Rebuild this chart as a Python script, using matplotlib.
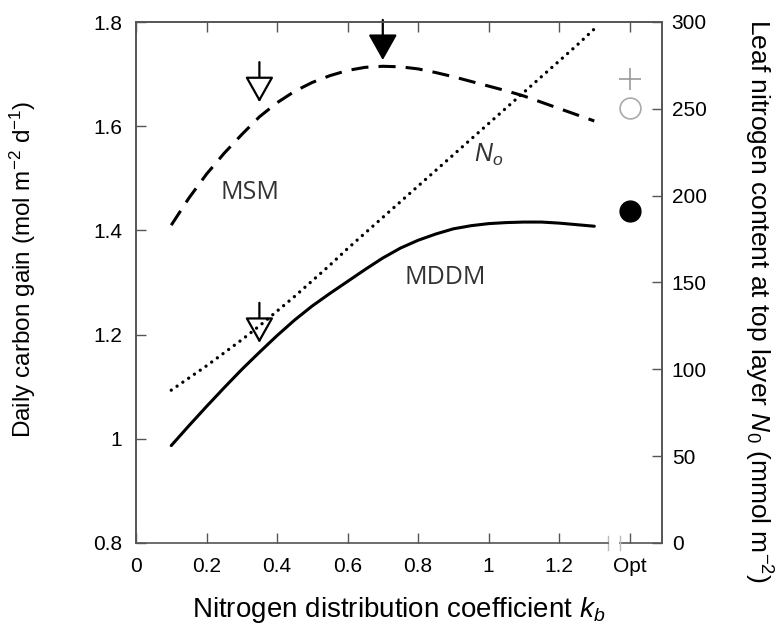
import matplotlib
matplotlib.use("Agg")
import matplotlib.pyplot as plt

plt.rcParams["font.family"] = ["Liberation Sans", "DejaVu Sans"]
plt.rcParams["mathtext.fontset"] = "custom"
plt.rcParams["mathtext.rm"] = "Liberation Sans"
plt.rcParams["mathtext.it"] = "Liberation Sans:italic"

# coeficiente kb
kb = [0.10, 0.15, 0.20, 0.25, 0.30, 0.35, 0.40, 0.45, 0.50, 0.55, 0.60, 0.65, 0.70,
      0.75, 0.80, 0.85, 0.90, 0.95, 1.00, 1.05, 1.10, 1.15, 1.20, 1.25, 1.30]
msm = [1.410, 1.462, 1.508, 1.548, 1.584, 1.618, 1.645, 1.667, 1.684, 1.697, 1.707, 1.713, 1.715,
       1.714, 1.710, 1.703, 1.695, 1.686, 1.677, 1.668, 1.658, 1.646, 1.634, 1.622, 1.610]
mddm = [0.987, 1.025, 1.062, 1.098, 1.133, 1.166, 1.198, 1.228, 1.255, 1.279, 1.302, 1.325, 1.347,
        1.366, 1.381, 1.393, 1.403, 1.409, 1.413, 1.415, 1.416, 1.416, 1.414, 1.411, 1.408]
n0 = [88, 95, 102, 109.5, 117, 125, 133.5, 142, 151, 160, 169.5, 178.5, 187.5,
      196.5, 205.5, 214.5, 223.5, 232.5, 241.5, 250.5, 259.5, 268.5, 277.5, 286.5, 296]

# valores no "Opt"
opt_x = 1.4
opt_mddm = 1.437
opt_msm = 1.635
opt_plus = 1.69

# setas (kb otimo)
seta_msm = (0.35, 1.646)
seta_max = (0.70, 1.727)
seta_mddm = (0.35, 1.184)

xticks = [0, 0.2, 0.4, 0.6, 0.8, 1.0, 1.2, opt_x]
xtick_labels = ["0", "0.2", "0.4", "0.6", "0.8", "1", "1.2", "Opt"]
yticks = [0.8, 1.0, 1.2, 1.4, 1.6, 1.8]
ytick_labels = ["0.8", "1", "1.2", "1.4", "1.6", "1.8"]
y2ticks = [0, 50, 100, 150, 200, 250, 300]

cor_eixo = "#555555"

fig = plt.figure(figsize=(7.79, 6.28), dpi=100)
ax = fig.add_axes([136 / 779, 1 - 543 / 628, 526 / 779, 521 / 628])
ax2 = ax.twinx()

ax.set_xlim(0, 1.492)
ax.set_ylim(0.8, 1.8)
ax2.set_ylim(0, 300)

ax.plot(kb, mddm, color="black", lw=2.2, solid_capstyle="round")
ax.plot(kb, msm, color="black", lw=2.2, dashes=(5.6, 3.3))
ax2.plot(kb, n0, color="black", lw=2.4, dashes=(0.01, 2.1), dash_capstyle="round")

ax.plot([opt_x], [opt_mddm], "o", color="black", ms=15)
ax.plot([opt_x], [opt_msm], "o", mfc="white", mec="#aaaaaa", ms=15, mew=1.2)
ax.plot([opt_x], [opt_plus], "+", color="#999999", ms=16, mew=1.2)

for (x, y), fc in [(seta_msm, "white"), (seta_max, "black"), (seta_mddm, "white")]:
    ax.annotate("", xy=(x, y), xytext=(x, y + 0.077),
                arrowprops=dict(arrowstyle="-|>,head_length=1.6,head_width=0.9",
                                fc=fc, ec="black", lw=1.6, shrinkA=0, shrinkB=0))

ax.text(0.323, 1.472, "MSM", fontsize=18, family="Open Sans", color="#333333",
        ha="center", va="center")
ax.text(0.877, 1.309, "MDDM", fontsize=18, family="Open Sans", color="#333333",
        ha="center", va="center")
ax.text(1.0, 1.545, r"$N_o$", fontsize=18, color="#333333", ha="center", va="center")

ax.set_xticks(xticks)
ax.set_xticklabels(xtick_labels)
ax.set_yticks(yticks)
ax.set_yticklabels(ytick_labels)
ax2.set_yticks(y2ticks)

ax.tick_params(axis="both", direction="in", length=7, width=1, color=cor_eixo,
               labelsize=15, pad=10, top=True)
ax2.tick_params(axis="y", direction="in", length=7, width=1, color=cor_eixo,
                labelsize=15, pad=7)

for a in (ax, ax2):
    for s in a.spines.values():
        s.set_color(cor_eixo)
        s.set_linewidth(1.2)

# quebra no eixo x antes do Opt
ax.spines["bottom"].set_bounds(0, 1.34)
ax2.spines["bottom"].set_visible(False)
ax.plot([1.372, 1.492], [0, 0], color=cor_eixo, lw=1.2, clip_on=False,
        transform=ax.get_xaxis_transform())
for xb in (1.34, 1.372):
    ax.plot([xb, xb], [-0.014, 0.014], color="#bbbbbb", lw=1, clip_on=False,
            transform=ax.get_xaxis_transform())

ax.set_xlabel(r"Nitrogen distribution coefficient $k_b$", fontsize=20)
ax.xaxis.set_label_coords(0.5, -0.1)
ax.set_ylabel(r"Daily carbon gain (mol m$^{-2}$ d$^{-1}$)", fontsize=17.5)
ax.yaxis.set_label_coords(-0.186, 0.526)
ax2.set_ylabel(r"Leaf nitrogen content at top layer $N_0$ (mmol m$^{-2}$)",
               fontsize=19, rotation=270, va="center")
ax2.yaxis.set_label_coords(1.182, 0.464)

fig.savefig("out.png", dpi=100)
